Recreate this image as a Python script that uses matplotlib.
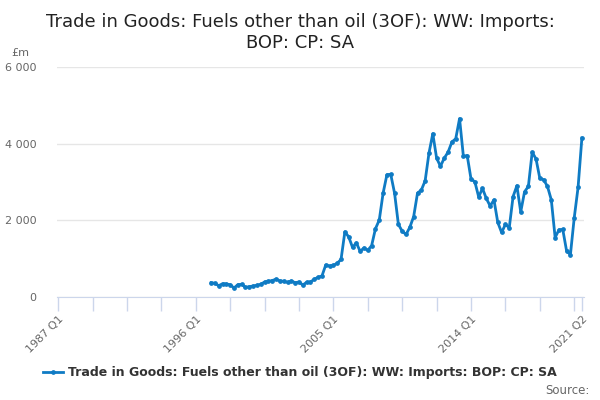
import matplotlib
matplotlib.use('Agg')
import matplotlib.pyplot as plt
from matplotlib.ticker import FuncFormatter

# Кварталы по оси X: 1987 Q1 .. 2021 Q2
quarters = [f'{y} Q{q}' for y in range(1987, 2022) for q in range(1, 5)]
quarters = quarters[:quarters.index('2021 Q2') + 1]

# Ряд начинается с 1997 Q1
start_quarter = '1997 Q1'
imports = [373, 357, 295, 347, 339, 321, 235, 321, 331, 253, 269, 287, 305, 331, 392, 410,
           430, 465, 420, 410, 384, 418, 373, 392, 313, 384, 392, 462, 514, 548, 835, 809, 827, 880,
           980, 1700, 1570, 1296, 1412, 1192, 1281, 1218, 1341, 1781, 2008, 2709, 3190, 3200, 2709,
           1894, 1717, 1631, 1820, 2100, 2710, 2790,
           3032, 3753, 4261, 3622, 3411, 3622, 3780, 4043, 4129, 4655, 3674, 3690, 3077, 3006,
           2612, 2833, 2570, 2375,
           2533, 1946, 1683, 1894, 1806, 2621, 2902, 2218, 2744, 2885, 3779, 3603, 3095, 3059,
           2885, 2533, 1552, 1752, 1762, 1200, 1105, 2069, 2858, 4148]

tick_labels = ['1987 Q1', '1996 Q1', '2005 Q1', '2014 Q1', '2021 Q2']
y_ticks = [0, 2000, 4000, 6000]

title = 'Trade in Goods: Fuels other than oil (3OF): WW: Imports:\nBOP: CP: SA'
series_name = 'Trade in Goods: Fuels other than oil (3OF): WW: Imports: BOP: CP: SA'

blue = '#0f7bc4'
axis_col = '#ccd6eb'

fig = plt.figure(figsize=(6, 4), dpi=100)
ax = fig.add_axes([0.095, 0.2575, 0.878, 0.575])

i0 = quarters.index(start_quarter)
xs = list(range(i0, i0 + len(imports)))
line, = ax.plot(xs, imports, color=blue, linewidth=2, marker='o', markersize=2.4,
                label=series_name)

ax.set_xlim(-0.3, len(quarters) - 0.5)
ax.set_ylim(0, 6000)

# Сетка и оси
ax.set_yticks(y_ticks)
ax.yaxis.set_major_formatter(FuncFormatter(lambda v, p: f'{int(v):,}'.replace(',', ' ')))
ax.grid(axis='y', color='#e6e6e6', linewidth=1)
ax.set_axisbelow(True)
for s in ['top', 'right', 'left']:
    ax.spines[s].set_visible(False)
ax.spines['bottom'].set_color(axis_col)
ax.tick_params(axis='y', length=0, pad=15, labelsize=8, labelcolor='#666666')

minor = list(range(0, len(quarters), 9))
ax.set_xticks(minor + [len(quarters) - 1], minor=True)
ax.tick_params(axis='x', which='minor', length=10, color=axis_col, width=1)
ax.set_xticks([quarters.index(t) for t in tick_labels])
ax.set_xticklabels(tick_labels, rotation=45, ha='right', rotation_mode='anchor')
ax.tick_params(axis='x', which='major', length=10, color=axis_col, width=1,
               labelsize=8, labelcolor='#666666', pad=2)

fig.text(0.5, 0.968, title, ha='center', va='top', fontsize=13, color='#222222',
         linespacing=1.2, fontweight='medium')
fig.text(0.019, 0.867, '£m', ha='left', va='center', fontsize=8, color='#666666')

fig.legend(handles=[line], loc='center', bbox_to_anchor=(0.5, 0.068), frameon=False,
           prop={'size': 9, 'weight': 'bold'}, labelcolor='#333333',
           handlelength=1.6, handletextpad=0.4)
fig.text(0.983, 0.025, 'Source:', ha='right', va='center', fontsize=8.5, color='#666666')

fig.savefig('out.png', dpi=100)
